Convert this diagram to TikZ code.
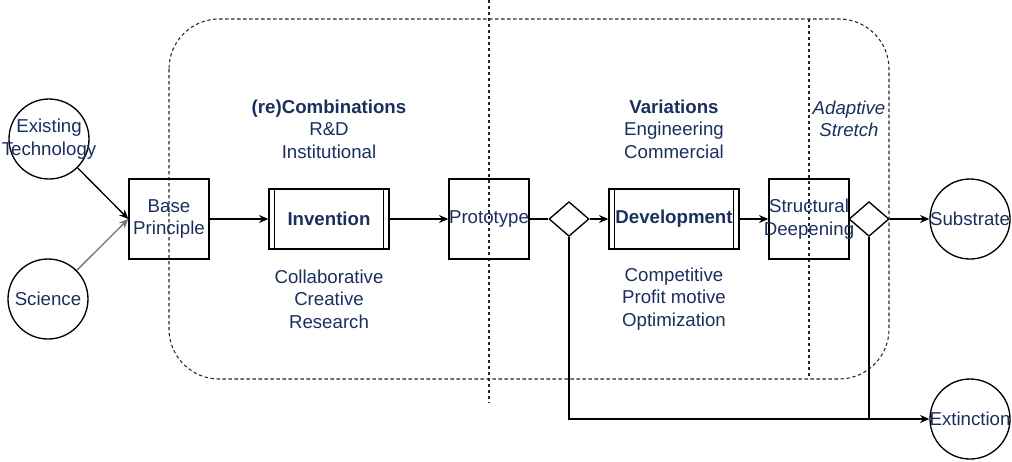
\documentclass[tikz,border=0pt]{standalone}
\usepackage{fontspec}
\setmainfont{Liberation Sans}
\usetikzlibrary{arrows.meta,positioning,shapes.geometric}
\definecolor{navy}{HTML}{1B2F5E}

\begin{document}
\begin{tikzpicture}[x=0.75pt,y=-0.75pt,line width=1pt,font=\fontsize{14}{16.8}\selectfont,
  >={Stealth[length=7pt,width=6pt]}]
\tikzstyle{outcome}=[draw,circle,minimum size=60pt,inner sep=0pt]
\tikzstyle{stagebox}=[draw,rectangle,minimum size=60pt,inner sep=0pt]
\tikzstyle{procbox}=[draw,rectangle,minimum height=45pt,inner sep=0pt]
\tikzstyle{gate}=[draw,diamond,minimum width=30pt,minimum height=26pt,inner sep=0pt]
\tikzstyle{words}=[text=navy,align=center]
\tikzstyle{phase}=[dashed,dash pattern=on 2.5pt off 2pt,black!85,line width=0.8pt]
\useasboundingbox (0,0) rectangle (1012,461);

% phases
\draw[phase,rounded corners=37.5pt] (169,19) rectangle (889,379);
\draw[phase] (489,0) -- (489,403);
\draw[phase] (809,19) -- (809,379);

% sources
\node [outcome,label={[words]center:Existing\\Technology}] (tech) at (49,139) {};
\node [outcome,label={[words]center:Science}] (sci) at (48,299) {};

% main line
\node [stagebox,label={[words]center:Base\\Principle}] (base) at (169,219) {};
\node [procbox,minimum width=90pt,words,font=\fontsize{14}{16.8}\selectfont\bfseries] (inv) at (329,219) {Invention};
\node [stagebox,label={[words]center:Prototype}] (proto) at (489,219) {};
\node [gate] (g1) at (569,219) {};
\node [procbox,minimum width=97.5pt,words,font=\fontsize{14}{16.8}\selectfont\bfseries] (dev) at (674,219) {Development};
\node [stagebox,label={[words]center:Structural\\Deepening}] (deep) at (809,219) {};
\node [gate] (g2) at (869,219) {};
\node [outcome,label={[words]center:Substrate}] (sub) at (970,219) {};
\node [outcome,label={[words]center:Extinction}] (ext) at (970,419) {};

% double bars
\foreach \p in {inv,dev} {
  \draw ([xshift=4.5pt]\p.north west) -- ([xshift=4.5pt]\p.south west);
  \draw ([xshift=-4.5pt]\p.north east) -- ([xshift=-4.5pt]\p.south east);
}

% labels
\node [words] (comb) at (329,129) {\textbf{(re)Combinations}\\R\&D\\Institutional};
\node [words] (var) at (674,129) {\textbf{Variations}\\Engineering\\Commercial};
\node [words,font=\fontsize{14}{16.8}\selectfont\itshape] (stretch) at (849,119) {Adaptive\\Stretch};
\node [words] (collab) at (329,299) {Collaborative\\Creative\\Research};
\node [words] (comp) at (674,299) {Competitive\\Profit motive\\Optimization};

% connectors
\draw[->] (tech) -- (base.west);
\draw[->,black!55] (sci) -- (base.west);
\draw[->] (base) -- (inv);
\draw[->] (inv) -- (proto);
\draw (proto) -- (g1);
\draw[->] (g1) -- (dev);
\draw[->] (dev) -- (deep);
\draw (deep) -- (g2);
\draw[->] (g2) -- (sub);
\draw[->] (g1.south) |- (ext);
\draw (g2.south) -- (g2 |- ext);
\end{tikzpicture}
\end{document}
